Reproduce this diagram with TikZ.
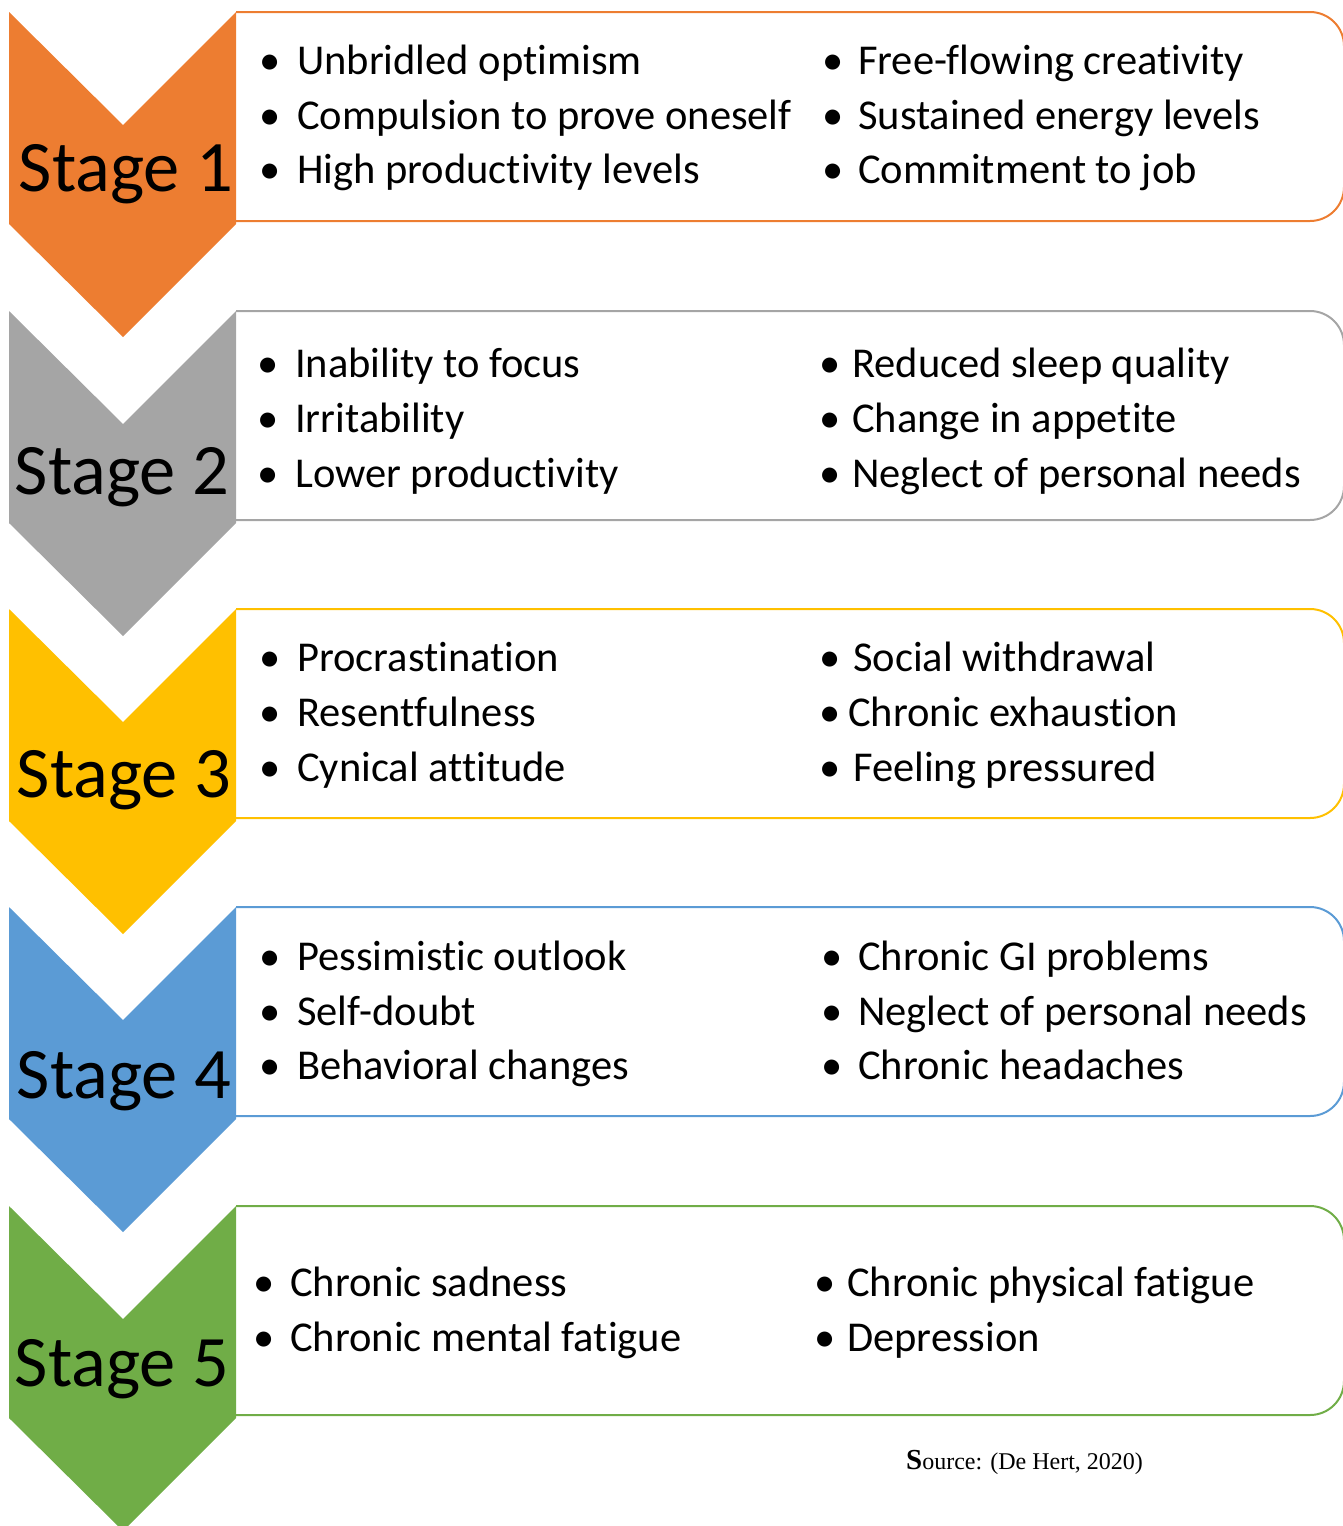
\documentclass[tikz,border=0pt]{standalone}
\usepackage{fontspec}
\setmainfont[Ligatures=CommonOff]{Carlito}
\newfontfamily\srcfont{Liberation Serif}
\definecolor{cOrange}{HTML}{ED7D31}
\definecolor{cGray}{HTML}{A5A5A5}
\definecolor{cYellow}{HTML}{FFC000}
\definecolor{cBlue}{HTML}{5B9BD5}
\definecolor{cGreen}{HTML}{70AD47}
\newcommand\stagebox[2]{% top, colour
  \draw[#2, line width=2pt, rounded corners=34] (236,#1) -- (1344,#1) -- (1344,#1+209) -- (236,#1+209);
  \fill[#2] (9,#1) -- (123,#1+113) -- (236,#1) -- (236,#1+212) -- (123,#1+325) -- (9,#1+212) -- cycle;
}
\tikzset{
  stagelbl/.style={font=\fontsize{72.5}{72.5}\selectfont, anchor=base, inner sep=0pt},
  itemtxt/.style={font=\fontsize{42.5}{42.5}\selectfont, anchor=base west, inner sep=0pt},
  bul/.style={font=\fontsize{42.5}{42.5}\selectfont, anchor=base, inner sep=0pt},
}
\begin{document}
\begin{tikzpicture}[x=1pt,y=-1pt]
\useasboundingbox (0,0) rectangle (1342,1526);
\stagebox{12}{cOrange}
\stagebox{311}{cGray}
\stagebox{609}{cYellow}
\stagebox{907}{cBlue}
\stagebox{1206}{cGreen}
\node[stagelbl] (l1) at (126,191) {Stage 1};
\node[stagelbl] (l2) at (122,494) {Stage 2};
\node[stagelbl] (l3) at (124,797) {Stage 3};
\node[stagelbl] (l4) at (124,1098) {Stage 4};
\node[stagelbl] (l5) at (122,1386) {Stage 5};
% stage 1
\foreach \y/\a/\b [count=\i] in {74/Unbridled optimism/Free-flowing creativity, 129/Compulsion to prove oneself/Sustained energy levels, 183/High productivity levels/Commitment to job}{
  \node[bul] (a1b\i) at (270,\y) {•};
  \node[itemtxt] (a1t\i) at (297,\y) {\a};
  \node[bul] (b1b\i) at (833,\y) {•};
  \node[itemtxt] (b1t\i) at (858,\y) {\b};
}
% stage 2
\foreach \y/\a/\b [count=\i] in {377/Inability to focus/Reduced sleep quality, 432/Irritability/Change in appetite, 487/Lower productivity/Neglect of personal needs}{
  \node[bul] (a2b\i) at (268,\y) {•};
  \node[itemtxt] (a2t\i) at (295,\y) {\a};
  \node[bul] (b2b\i) at (830,\y) {•};
  \node[itemtxt] (b2t\i) at (852,\y) {\b};
}
% stage 3
\foreach \y/\a/\b/\bx [count=\i] in {671/Procrastination/Social withdrawal/853, 726/Resentfulness/Chronic exhaustion/848, 781/Cynical attitude/Feeling pressured/853}{
  \node[bul] (a3b\i) at (270,\y) {•};
  \node[itemtxt] (a3t\i) at (297,\y) {\a};
  \node[bul] (b3b\i) at (830,\y) {•};
  \node[itemtxt] (b3t\i) at (\bx,\y) {\b};
}
% stage 4
\foreach \y/\a/\b [count=\i] in {970/Pessimistic outlook/Chronic GI problems, 1025/Self-doubt/Neglect of personal needs, 1079/Behavioral changes/Chronic headaches}{
  \node[bul] (a4b\i) at (270,\y) {•};
  \node[itemtxt] (a4t\i) at (297,\y) {\a};
  \node[bul] (b4b\i) at (832,\y) {•};
  \node[itemtxt] (b4t\i) at (858,\y) {\b};
}
% stage 5
\foreach \y/\a/\b [count=\i] in {1296/Chronic sadness/Chronic physical fatigue, 1351/Chronic mental fatigue/Depression}{
  \node[bul] (a5b\i) at (264,\y) {•};
  \node[itemtxt] (a5t\i) at (290,\y) {\a};
  \node[bul] (b5b\i) at (825,\y) {•};
  \node[itemtxt] (b5t\i) at (847,\y) {\b};
}
\node[anchor=base west, inner sep=0pt, font=\srcfont\fontsize{24}{24}\selectfont] (src) at (906,1469) {{\fontsize{29}{29}\selectfont\bfseries S}ource: (De Hert, 2020)};
\end{tikzpicture}
\end{document}
